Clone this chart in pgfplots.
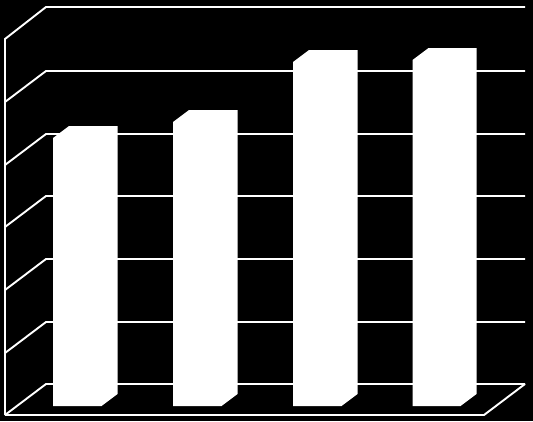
\documentclass[border=0pt]{standalone}
\usepackage{pgfplots}
\pgfplotsset{compat=1.18}
\begin{document}
\begin{tikzpicture}
\begin{axis}[
  scale only axis, width=533pt, height=421pt,
  xmin=0, xmax=533, ymin=0, ymax=421, y dir=reverse,
  hide axis, clip=true,
  every axis plot/.append style={no markers},
]
% background
\addplot[fill=black, draw=none] coordinates {(0,0) (533,0) (533,421) (0,421)} -- cycle;
% walls and gridlines
\pgfplotsset{cycle list={}}
\addplot[white, line width=1.9pt, line join=miter] coordinates {(5,415) (5,39) (46,7) (525,7)};
\addplot[white, line width=1.9pt] coordinates {(5,102) (46,71) (525,71)};
\addplot[white, line width=1.9pt] coordinates {(5,165) (46,134) (525,134)};
\addplot[white, line width=1.9pt] coordinates {(5,227) (46,196) (525,196)};
\addplot[white, line width=1.9pt] coordinates {(5,290) (46,259) (525,259)};
\addplot[white, line width=1.9pt] coordinates {(5,353) (46,322) (525,322)};
\addplot[white, line width=1.9pt] coordinates {(5,415) (46,384) (525,384)};
\addplot[white, line width=1.9pt, line join=miter] coordinates {(5,415) (484,415) (525,384)};
% bars
\addplot[fill=white, draw=none] coordinates {(53,406) (53,138) (69,126) (117.5,126) (117.5,394) (101.5,406)} -- cycle;
\addplot[fill=white, draw=none] coordinates {(173,406) (173,122) (189,110) (237.5,110) (237.5,394) (221.5,406)} -- cycle;
\addplot[fill=white, draw=none] coordinates {(293,406) (293,62) (309,50) (357.5,50) (357.5,394) (341.5,406)} -- cycle;
\addplot[fill=white, draw=none] coordinates {(412.5,406) (412.5,60) (428.5,48) (476.5,48) (476.5,394) (460.5,406)} -- cycle;
\end{axis}
\end{tikzpicture}
\end{document}
